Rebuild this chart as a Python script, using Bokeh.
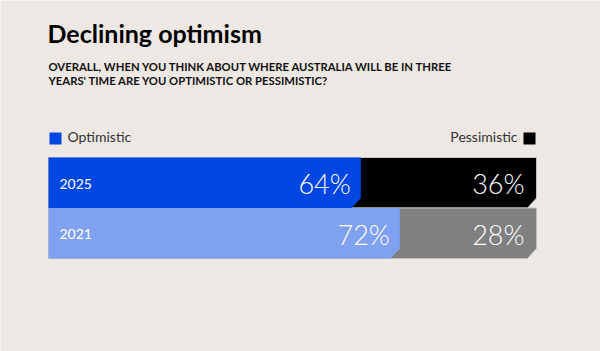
from bokeh.plotting import figure
from bokeh.models import Range1d, Label
from bokeh.core.properties import value
from bokeh.embed import file_html
from bokeh.resources import INLINE

# ---- data ----
years = ["2025", "2021"]
optimistic = [64, 72]
pessimistic = [36, 28]
title = "Declining optimism"
subtitle = ["OVERALL, WHEN YOU THINK ABOUT WHERE AUSTRALIA WILL BE IN THREE",
            "YEARS' TIME ARE YOU OPTIMISTIC OR PESSIMISTIC?"]
legend_labels = ["Optimistic", "Pessimistic"]

# ---- style ----
BG = "#ede8e4"
opt_colors = ["#0046e1", "#7fa1f0"]
pes_colors = ["#000000", "#808080"]
W, H = 600, 351
X0, X1 = 48, 536            # pixel extents of 0..100 %
PX = (X1 - X0) / 100.0
ROW_TOP, ROW_H = 157, 50.5
CX = 9 / PX                  # chamfer in x data units
CY = 10 / ROW_H              # chamfer in y data units

p = figure(width=W, height=H, output_backend="svg", toolbar_location=None,
           x_range=Range1d(-X0 / PX, (W - X0) / PX),
           y_range=Range1d(-0.5 + (H - ROW_TOP) / ROW_H, -0.5 - ROW_TOP / ROW_H),
           min_border=0, outline_line_color=None,
           background_fill_color=BG, border_fill_color=BG)
p.axis.visible = False
p.grid.visible = False

total = [o + q for o, q in zip(optimistic, pessimistic)]
full_xs, full_ys, opt_xs, opt_ys = [], [], [], []
for i, (o, t) in enumerate(zip(optimistic, total)):
    top, bot = i - 0.5, i + 0.5
    full_xs.append([0, t, t, t - CX, 0])
    full_ys.append([top, top, bot - CY, bot, bot])
    opt_xs.append([0, o, o, o - CX, 0])
    opt_ys.append([top, top, bot - CY, bot, bot])
p.patches(full_xs, full_ys, fill_color=pes_colors, line_color="#c4c0bc", line_width=1)
p.patches(opt_xs, opt_ys, fill_color=opt_colors, line_color=None)

rows = list(range(len(years)))
p.text(x=[0] * len(years), y=rows, text=years, x_offset=11, y_offset=1,
       text_color="white", text_font=value("Lato"), text_font_size="14px",
       text_baseline="middle", text_align="left")
p.text(x=optimistic, y=rows, text=[f"{v}%" for v in optimistic], x_offset=-10, y_offset=1,
       text_color="white", text_font=value("Lato Light"), text_font_size="27px",
       text_baseline="middle", text_align="right")
p.text(x=total, y=rows, text=[f"{v}%" for v in pessimistic], x_offset=-12, y_offset=1,
       text_color="white", text_font=value("Lato Light"), text_font_size="27px",
       text_baseline="middle", text_align="right")

# legend squares
def px_to_x(px):
    return (px - X0) / PX

def px_to_y(py):
    return (py - ROW_TOP) / ROW_H - 0.5

sq_x = [49, 523]
p.quad(left=[px_to_x(x) for x in sq_x], right=[px_to_x(x + 12) for x in sq_x],
       top=[px_to_y(132)] * 2, bottom=[px_to_y(144)] * 2,
       fill_color=[opt_colors[0], pes_colors[0]], line_color=None)

p.add_layout(Label(x=67, y=H - 136, x_units="screen", y_units="screen",
                   text=legend_labels[0], text_font="Lato", text_font_size="14px",
                   text_color="#333333", text_baseline="alphabetic"))
p.add_layout(Label(x=517, y=H - 136, x_units="screen", y_units="screen",
                   text=legend_labels[1], text_font="Lato", text_font_size="14px",
                   text_color="#333333", text_baseline="alphabetic", text_align="right"))

p.add_layout(Label(x=47, y=H - 32, x_units="screen", y_units="screen",
                   text=title, text_font="Lato", text_font_style="bold",
                   text_font_size="25px", text_color="#000000", text_baseline="alphabetic"))
for k, line in enumerate(subtitle):
    p.add_layout(Label(x=48, y=H - 65.5 - 14.5 * k, x_units="screen", y_units="screen",
                       text=line, text_font="Lato", text_font_style="bold",
                       text_font_size="11.3px", text_color="#111111",
                       text_baseline="alphabetic"))

open("out.html", "w").write(file_html(p, INLINE))
